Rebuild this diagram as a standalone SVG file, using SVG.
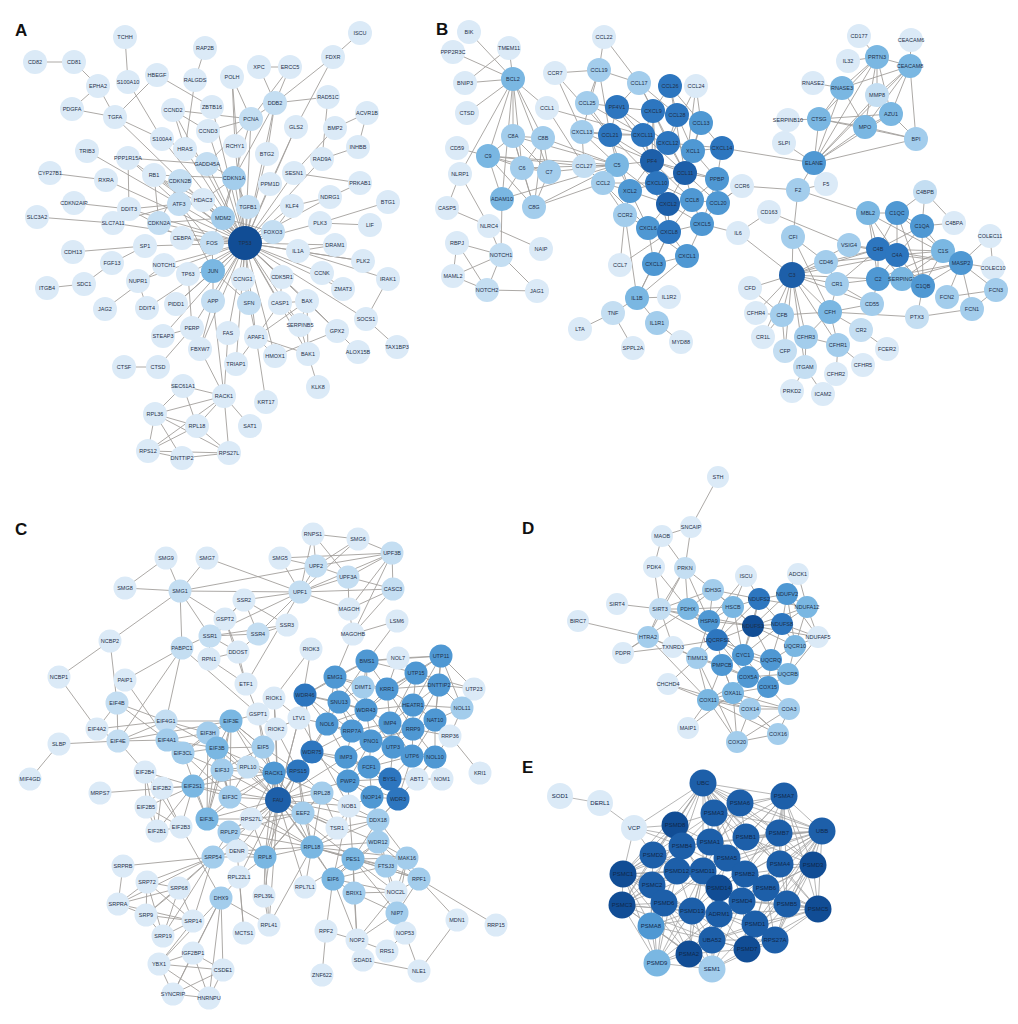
<svg xmlns="http://www.w3.org/2000/svg" width="1018" height="1024" viewBox="0 0 1018 1024">
<style>
text{font-family:"Liberation Sans",Arial,sans-serif;font-size:5.5px;fill:#1f3049;text-anchor:middle;dominant-baseline:central}
.pl{font-size:17px;font-weight:bold;fill:#111;text-anchor:start;dominant-baseline:auto}
.e{fill:none;stroke:#a39f9c;stroke-width:0.9}
.ee{fill:none;stroke:#a3a3a3;stroke-width:0.8}
.k0{fill:#dbeaf7}.k1{fill:#c4def2}.k2{fill:#a3cdec}.k3{fill:#7ab7e2}.k4{fill:#4f98d3}.k5{fill:#2d76bf}.k6{fill:#1d5fa9}.k7{fill:#114d95}
#E text{font-size:6px;fill:#10284a}
</style>
<rect width="1018" height="1024" fill="#fff"/>
<text class="pl" x="15" y="36">A</text>
<text class="pl" x="436" y="35">B</text>
<text class="pl" x="15" y="535">C</text>
<text class="pl" x="522" y="534">D</text>
<text class="pl" x="522" y="773">E</text>
<g id="connectors">
<path class="e" d="M245 243L223 218M245 243L234 178M245 243L213 271M245 243L212 243M245 243L159 223M245 243L182 238M245 243L179 204M245 243L203 200M245 243L248 207M245 243L273 232M245 243L207 164M245 243L185 149M245 243L180 181M245 243L154 175M245 243L145 246M245 243L164 265M245 243L188 274M245 243L243 279M245 243L282 277M245 243L249 303M245 243L280 303M245 243L307 301M245 243L300 325M245 243L256 337M245 243L213 301M245 243L176 304M245 243L228 333M245 243L236 364M245 243L298 251M245 243L335 245M245 243L363 261M245 243L320 223M245 243L292 206M245 243L294 173M245 243L270 184M245 243L267 154M245 243L235 146M245 243L251 119M245 243L275 103M245 243L343 289M245 243L322 273M245 243L366 319M245 243L337 331M245 243L308 354M245 243L275 356M245 243L192 328M245 243L147 308M245 243L138 281M245 243L113 223M245 243L129 209M245 243L106 180M245 243L173 110M245 243L208 131M245 243L212 107M245 243L232 77M245 243L162 139M245 243L115 117M245 243L128 158M245 243L163 336M245 243L200 349M245 243L322 159M245 243L296 127M245 243L330 197
M35 62L74 62M74 62L98 86M98 86L72 109M98 86L115 117M72 109L115 117M125 37L128 82M128 82L162 139M157 75L115 117M157 75L212 107M205 48L195 80M195 80L185 149M115 117L162 139M173 110L251 119M173 110L208 131M173 110L185 149M208 131L251 119M232 77L251 119M232 77L235 146M259 67L290 67M259 67L275 103M290 67L275 103M290 67L251 119M360 33L333 57M333 57L275 103M333 57L296 127M275 103L328 97M275 103L251 119M275 103L267 154M275 103L234 178M251 119L234 178M251 119L207 164M328 97L322 159M367 113L335 128M367 113L358 147M335 128L294 173M358 147L322 159M296 127L270 184M294 173L360 183M330 197L360 183M330 197L292 206M388 202L320 223M320 223L370 225M292 206L273 232M335 245L298 251M363 261L298 251M298 251L388 279M388 279L366 319M366 319L397 347M337 331L358 352M337 331L307 301M337 331L275 356M308 354L318 387M307 301L308 354M307 301L280 303M307 301L256 337M307 301L300 325M280 303L256 337M249 303L256 337M256 337L275 356M256 337L308 354M256 337L266 402M322 273L343 289M282 277L280 303M87 151L179 204M50 173L106 180M74 203L129 209M37 217L113 223M113 223L179 204M129 209L179 204M129 209L182 238M129 209L128 158M128 158L207 164M128 158L179 204M154 175L159 223M154 175L203 200M154 175L234 178M154 175L223 218M180 181L159 223M159 223L223 218M234 178L223 218M234 178L207 164M234 178L248 207M234 178L212 243M223 218L273 232M213 271L212 243M213 271L179 204M213 271L213 301M213 271L188 274M73 252L145 246M112 263L145 246M47 288L84 284M84 284L112 263M105 309L164 265M124 367L158 367M158 367L192 328M163 336L192 328M192 328L188 274M213 301L200 349M200 349L224 396M213 301L224 396M228 333L224 396M236 364L256 337M224 396L183 386M224 396L155 414M224 396L197 426M224 396L229 453M224 396L250 426M224 396L148 451M183 386L155 414M183 386L197 426M155 414L197 426M155 414L148 451M155 414L182 458M155 414L229 453M197 426L148 451M197 426L229 453M148 451L182 458M182 458L229 453M148 451L229 453M203 200L223 218M182 238L212 243M212 243L179 204M179 204L180 181M203 200L234 178M207 164L185 149M185 149L162 139M138 281L147 308M176 304L213 271M249 303L213 271M243 279L249 303M280 303L300 325M300 325L308 354"/>
<path class="e" d="M469 32L513 79M509 48L513 79M453 52L513 79M465 83L513 79M467 113L513 79M465 83L509 48M513 79L547 108M513 79L513 136M513 79L543 138M513 79L488 156M513 79L522 168M513 79L549 172M513 79L502 199M513 79L460 174M457 148L488 156M488 156L513 136M488 156L522 168M488 156L549 172M488 156L534 207M488 156L502 199M513 136L543 138M513 136L522 168M513 136L549 172M513 136L534 207M543 138L522 168M543 138L549 172M543 138L534 207M522 168L549 172M522 168L534 207M549 172L534 207M522 168L502 199M617 165L522 168M617 165L549 172M617 165L543 138M617 165L488 156M617 165L534 207M617 165L513 136M502 199L501 255M502 199L617 165M460 174L447 208M460 174L489 226M447 208L489 226M489 226L541 249M489 226L501 255M457 243L501 255M457 243L453 276M457 243L487 290M453 276L501 255M453 276L487 290M501 255L487 290M501 255L537 291M487 290L537 291M534 207L603 183M488 156L584 166M547 108L584 166
M604 37L599 70M604 37L639 83M555 73L599 70M555 73L610 135M555 73L582 132M599 70L610 135M599 70L587 103M599 70L639 83M599 70L582 132M639 83L617 107M639 83L685 173M639 83L677 115M639 83L653 111M670 86L685 173M670 86L653 111M670 86L701 123M670 86L677 115M696 86L701 123M696 86L685 173M696 86L668 143M547 108L643 135M587 103L617 107M587 103L610 135M587 103L643 135M617 107L653 111M617 107L610 135M617 107L643 135M617 107L652 161M617 107L668 143M653 111L677 115M653 111L643 135M653 111L668 143M653 111L657 183M653 111L652 161M677 115L701 123M677 115L668 143M677 115L693 151M701 123L693 151M701 123L722 148M701 123L685 173M582 132L610 135M582 132L643 135M582 132L617 165M582 132L584 166M582 132L652 161M610 135L643 135M610 135L617 165M610 135L652 161M610 135L630 191M643 135L668 143M643 135L652 161M643 135L657 183M668 143L693 151M668 143L652 161M668 143L685 173M668 143L722 148M693 151L722 148M693 151L685 173M693 151L717 179M722 148L717 179M722 148L814 163M584 166L617 165M584 166L603 183M617 165L652 161M617 165L603 183M617 165L630 191M652 161L685 173M652 161L657 183M652 161L630 191M652 161L668 204M652 161L692 200M652 161L717 179M685 173L717 179M685 173L657 183M685 173L692 200M685 173L718 203M685 173L668 204M717 179L718 203M717 179L692 200M717 179L702 224M603 183L630 191M603 183L625 215M603 183L657 183M630 191L657 183M630 191L668 204M630 191L625 215M657 183L668 204M657 183L692 200M668 204L692 200M668 204L648 228M668 204L669 232M668 204L702 224M692 200L718 203M692 200L702 224M718 203L702 224M718 203L742 186M625 215L648 228M625 215L620 265M648 228L669 232M648 228L654 264M648 228L687 256M669 232L702 224M669 232L654 264M669 232L687 256M702 224L687 256M702 224L738 233M654 264L687 256M620 265L669 232M637 298L687 256M637 298L654 264M637 298L669 232M637 298L625 215M637 298L669 297M637 298L657 323M637 298L613 313M613 313L580 329M613 313L633 348M657 323L681 342M617 165L668 204M610 135L657 183M643 135L685 173M630 191L648 228M657 183L669 232M692 200L669 232M603 183L648 228
M814 163L916 139M814 163L865 127M814 163L819 119M814 163L891 114M814 163L877 57M814 163L842 88M814 163L910 66M814 163L877 95M814 163L784 143M814 163L798 190M819 119L788 120M819 119L865 127M819 119L891 114M819 119L877 57M819 119L842 88M819 119L916 139M865 127L891 114M865 127L916 139M865 127L877 57M865 127L910 66M865 127L842 88M891 114L916 139M891 114L910 66M891 114L877 57M891 114L877 95M877 95L910 66M877 95L877 57M910 66L911 40M910 66L916 139M910 66L842 88M910 66L877 57M877 57L859 36M877 57L848 61M877 57L842 88M813 83L842 88M798 190L826 184M798 190L742 186M798 190L793 237M798 190L868 213M742 186L718 203M738 233L769 212M738 233L792 275M769 212L849 245M793 237L792 275M793 237L826 262M793 237L830 312
M792 275L750 288M792 275L756 313M792 275L782 315M792 275L763 337M792 275L785 351M792 275L806 337M792 275L805 367M792 275L830 312M792 275L838 345M792 275L837 284M792 275L826 262M792 275L872 304M792 275L878 279M792 275L878 249M792 275L897 255M792 275L849 245M826 262L878 249M826 262L897 255M826 262L837 284M849 245L878 249M849 245L897 255M878 249L897 255M878 249L878 279M878 249L943 251M878 249L897 213M878 249L922 226M878 249L868 213M878 249L961 263M878 249L902 279M878 249L923 286M878 249L837 284M897 255L878 279M897 255L943 251M897 255L961 263M897 255L922 226M897 255L897 213M897 255L868 213M897 255L902 279M897 255L923 286M878 279L943 251M878 279L902 279M878 279L872 304M878 279L837 284M878 279L961 263M943 251L961 263M943 251L902 279M943 251L923 286M943 251L922 226M943 251L897 213M897 213L922 226M897 213L923 286M897 213L868 213M922 226L923 286M922 226L954 223M925 192L954 223M925 192L922 226M925 192L897 213M868 213L961 263M868 213L878 279M961 263L990 236M961 263L993 268M961 263L947 297M961 263L972 309M961 263L996 290M961 263L923 286M961 263L902 279M990 236L993 268M996 290L947 297M972 309L996 290M972 309L917 317M917 317L830 312M923 286L917 317M872 304L837 284M872 304L830 312M830 312L861 330M861 330L887 349M830 312L838 345M830 312L806 337M830 312L782 315M830 312L837 284M838 345L836 374M838 345L863 365M806 337L805 367M806 337L838 345M805 367L792 391M805 367L823 394M782 315L785 351M782 315L750 288M782 315L763 337M782 315L756 313"/>
<path class="e" d="M166 558L125 588M166 558L180 591M207 558L180 591M207 558L300 592M125 588L180 591M180 591L300 592M180 591L225 619M180 591L210 636M180 591L182 648M180 591L110 641M180 591L316 566M110 641L59 677M110 641L117 703M59 677L97 729M182 648L125 680M182 648L166 721M182 648L118 741M182 648L258 714M182 648L300 592M125 680L167 740M117 703L97 729M117 703L118 741M117 703L166 721M117 703L167 740M118 741L166 721M118 741L97 729M118 741L59 744M118 741L167 740M118 741L231 721M59 744L30 779M166 721L231 721M166 721L167 740M166 721L208 733M166 721L217 748M167 740L217 748M167 740L208 733M97 729L166 721M210 636L244 600M210 636L287 625M210 636L258 634M210 636L209 659M210 636L238 652M210 636L225 619M244 600L287 625M244 600L258 634M244 600L225 619M258 634L287 625M258 634L238 652M238 652L209 659M244 600L300 592M225 619L246 684M225 619L238 652M246 684L258 714M246 684L300 592M246 684L209 659M238 652L246 684M300 592L316 566M300 592L348 577M300 592L392 553M300 592L280 558M300 592L358 539M300 592L313 534M300 592L349 609M300 592L393 589M316 566L348 577M316 566L392 553M316 566L280 558M316 566L313 534M316 566L358 539M348 577L392 553M348 577L393 589M348 577L349 609M348 577L313 534M392 553L358 539M392 553L393 589M392 553L349 609M392 553L353 634M280 558L392 553M393 589L349 609M393 589L353 634M349 609L353 634M353 634L397 621M353 634L335 677M397 621L367 661M313 534L358 539M258 634L300 592M311 649L299 718M311 649L274 698M274 698L276 729M274 698L299 718M276 729L299 718M258 714L263 747M258 714L276 729M258 714L231 721M274 698L258 714
M367 661L398 658M367 661L335 677M367 661L387 689M367 661L363 687M367 661L416 673M367 661L441 656M367 661L305 695M367 661L339 702M367 661L366 710M398 658L441 656M398 658L416 673M398 658L387 689M441 656L416 673M441 656L439 685M441 656L413 705M441 656L462 708M441 656L435 720M441 656L387 689M335 677L363 687M335 677L305 695M335 677L339 702M335 677L387 689M335 677L366 710M335 677L327 724M416 673L439 685M416 673L387 689M416 673L413 705M416 673L390 723M416 673L474 689M416 673L366 710M363 687L387 689M363 687L339 702M363 687L366 710M387 689L413 705M387 689L366 710M387 689L390 723M387 689L439 685M387 689L413 729M439 685L474 689M439 685L413 705M439 685L462 708M439 685L435 720M439 685L413 729M305 695L339 702M305 695L327 724M305 695L352 731M305 695L312 752M305 695L366 710M339 702L366 710M339 702L327 724M339 702L352 731M339 702L371 741M366 710L390 723M366 710L413 705M366 710L352 731M366 710L371 741M366 710L393 747M366 710L327 724M413 705L435 720M413 705L462 708M413 705L390 723M413 705L413 729M413 705L393 747M462 708L435 720M462 708L450 736M327 724L352 731M327 724L312 752M327 724L346 757M327 724L371 741M390 723L413 729M390 723L371 741M390 723L393 747M390 723L352 731M390 723L412 756M435 720L413 729M435 720L450 736M435 720L435 757M435 720L412 756M352 731L371 741M352 731L346 757M352 731L312 752M352 731L393 747M413 729L393 747M413 729L412 756M413 729L435 757M413 729L371 741M371 741L393 747M371 741L346 757M371 741L369 767M371 741L348 781M393 747L412 756M393 747L369 767M393 747L390 779M393 747L435 757M312 752L346 757M312 752L348 781M312 752L369 767M346 757L369 767M346 757L348 781M346 757L390 779M412 756L435 757M412 756L390 779M412 756L398 799M412 756L369 767M435 757L442 779M435 757L417 779M435 757L398 799M369 767L390 779M369 767L348 781M369 767L372 797M369 767L398 799M390 779L417 779M390 779L398 799M390 779L372 797M390 779L348 781M348 781L372 797M348 781L398 799M348 781L349 806M372 797L398 799M372 797L378 820M398 799L378 820M417 779L442 779M474 689L441 656M450 736L435 757M450 736L413 729M450 736L480 773M299 718L305 695M299 718L327 724M299 718L278 800M299 718L349 806M299 718L276 729
M278 800L274 773M278 800L298 771M278 800L248 767M278 800L222 770M278 800L230 797M278 800L193 786M278 800L207 819M278 800L251 819M278 800L229 832M278 800L265 857M278 800L312 847M278 800L303 813M278 800L322 793M278 800L349 806M278 800L337 828M278 800L276 729M278 800L274 698M278 800L263 747M278 800L217 748M278 800L231 721M278 800L258 714M278 800L237 851M278 800L239 877M278 800L264 896M278 800L269 925M278 800L305 887M278 800L213 857M278 800L353 859M278 800L333 879M278 800L312 752M278 800L327 724M278 800L305 695M278 800L348 781M278 800L346 757M278 800L208 733M278 800L378 820M278 800L378 842M274 773L298 771M274 773L248 767M274 773L222 770M274 773L230 797M274 773L263 747M274 773L217 748M274 773L231 721M274 773L312 847M274 773L265 857M274 773L303 813M274 773L193 786M274 773L207 819M274 773L322 793M274 773L251 819M298 771L322 793M298 771L312 847M298 771L303 813M298 771L265 857M298 771L263 747M298 771L312 752M298 771L276 729M231 721L208 733M231 721L217 748M231 721L183 753M231 721L222 770M231 721L230 797M231 721L207 819M231 721L263 747M208 733L217 748M208 733L183 753M208 733L222 770M208 733L230 797M208 733L207 819M217 748L183 753M217 748L222 770M217 748L230 797M217 748L207 819M217 748L193 786M183 753L222 770M183 753L230 797M183 753L207 819M222 770L230 797M222 770L207 819M230 797L207 819M193 786L263 747M193 786L230 797M193 786L145 772M193 786L162 788M193 786L146 807M193 786L157 831M193 786L181 827M193 786L100 793M193 786L207 819M263 747L231 721M263 747L217 748M248 767L222 770M248 767L230 797M248 767L263 747M145 772L162 788M145 772L146 807M145 772L157 831M145 772L181 827M162 788L146 807M162 788L157 831M162 788L181 827M146 807L157 831M146 807L181 827M157 831L181 827M145 772L118 741
M312 847L265 857M312 847L303 813M312 847L322 793M312 847L353 859M312 847L333 879M312 847L378 842M312 847L378 820M312 847L337 828M312 847L407 858M312 847L386 866M312 847L419 879M312 847L269 925M312 847L229 832M312 847L237 851M312 847L230 797M312 847L251 819M265 857L229 832M265 857L237 851M265 857L303 813M265 857L251 819M265 857L264 896M265 857L269 925M265 857L239 877M265 857L213 857M265 857L322 793M303 813L322 793M303 813L229 832M303 813L251 819M303 813L337 828M322 793L349 806M322 793L337 828M229 832L251 819M229 832L213 857M229 832L207 819M237 851L213 857M237 851L244 933M251 819L207 819M337 828L349 806M337 828L378 820M349 806L378 820M349 806L372 797M378 820L378 842M378 820L353 859M378 820L407 858M378 820L386 866M378 820L398 799M378 820L372 797M378 842L353 859M378 842L407 858M378 842L386 866M378 842L333 879M378 842L419 879M353 859L407 858M353 859L386 866M353 859L333 879M353 859L419 879M353 859L354 893M353 859L396 892M353 859L397 913M353 859L357 940M407 858L386 866M407 858L419 879M407 858L396 892M407 858L397 913M386 866L419 879M386 866L396 892M386 866L333 879M386 866L397 913M333 879L354 893M333 879L357 940M333 879L326 931M333 879L396 892M419 879L396 892M419 879L397 913M419 879L457 920M419 879L496 925M354 893L357 940M354 893L397 913M354 893L396 892M396 892L397 913M397 913L357 940M397 913L405 933M305 887L312 847M305 887L353 859M326 931L322 975M326 931L357 940M357 940L387 951M357 940L363 960M357 940L396 892M405 933L387 951M405 933L419 971M363 960L419 971M457 920L419 971M353 859L349 806M349 806L333 879
M213 857L123 866M213 857L147 882M213 857L179 888M213 857L193 921M213 857L146 915M213 857L163 936M213 857L118 904M213 857L237 851M147 882L179 888M147 882L118 904M147 882L146 915M147 882L163 936M147 882L193 921M123 866L118 904M118 904L146 915M179 888L193 921M179 888L163 936M179 888L146 915M179 888L118 904M146 915L193 921M146 915L163 936M193 921L163 936M193 921L118 904M221 898L159 964M221 898L193 953M221 898L223 970M221 898L209 998M221 898L173 994M221 898L269 925M221 898L181 827M221 898L239 877M159 964L193 953M159 964L223 970M159 964L173 994M159 964L209 998M193 953L223 970M193 953L209 998M193 953L173 994M223 970L173 994M223 970L209 998M173 994L209 998M159 964L193 921M264 896L269 925M239 877L244 933"/>
<path class="e" d="M718 477L691 527M691 527L662 536M691 527L685 568M662 536L685 568M662 536L654 567M654 567L660 609M654 567L688 609M685 568L660 609M685 568L648 637M685 568L713 590M685 568L709 621M685 568L688 609M617 604L660 609M578 621L648 637M648 637L623 653M648 637L673 647M648 637L660 609M648 637L697 658M648 637L708 700M623 653L688 609M623 653L673 647M660 609L688 609M660 609L713 590M660 609L709 621M660 609L673 647M660 609L717 640M660 609L753 626M688 609L713 590M688 609L709 621M688 609L733 607M688 609L717 640M746 576L733 607M746 576L709 621M746 576L759 599M798 574L787 594M798 574L807 607M713 590L759 599M713 590L733 607M713 590L709 621M713 590L753 626M759 599L787 594M759 599L753 626M759 599L782 624M759 599L807 607M759 599L733 607M759 599L717 640M759 599L743 655M787 594L807 607M787 594L782 624M787 594L753 626M787 594L818 637M787 594L795 646M807 607L782 624M807 607L818 637M807 607L795 646M807 607L753 626M733 607L709 621M733 607L753 626M733 607L717 640M733 607L743 655M709 621L717 640M709 621L753 626M709 621L697 658M709 621L743 655M753 626L782 624M753 626L717 640M753 626L743 655M753 626L771 660M753 626L795 646M753 626L818 637M782 624L818 637M782 624L795 646M782 624L771 660M782 624L743 655M818 637L795 646M818 637L788 674M717 640L743 655M717 640L722 665M717 640L771 660M717 640L748 677M717 640L697 658M795 646L771 660M795 646L788 674M743 655L771 660M743 655L722 665M743 655L748 677M743 655L788 674M743 655L768 687M771 660L788 674M771 660L748 677M771 660L768 687M722 665L748 677M722 665L697 658M722 665L733 693M788 674L748 677M788 674L768 687M748 677L768 687M748 677L733 693M768 687L733 693M768 687L789 709M768 687L750 709M697 658L708 700M697 658L668 684M697 658L748 677M673 647L697 658M673 647L717 640M668 684L708 700M668 684L750 709M688 728L708 700M688 728L733 693M737 742L778 734M737 742L708 700M737 742L750 709M737 742L733 693M737 742L789 709M778 734L789 709M778 734L708 700M778 734L750 709M778 734L733 693M789 709L750 709M789 709L708 700M789 709L733 693M708 700L733 693M708 700L750 709M708 700L748 677M750 709L733 693M708 700L722 665M733 693L722 665M697 658L737 742"/>
<path class="ee" d="M560 796L600 803M600 803L634 828M634 828L703 783M634 828L653 855M634 828L675 825M634 828L682 846M634 828L623 874M634 828L710 842
M703 783L784 796M703 783L740 803M703 783L714 813M703 783L675 825M703 783L822 831M703 783L746 837M703 783L779 833M703 783L682 846M703 783L710 842M703 783L653 855M703 783L727 858M703 783L780 864M703 783L813 865M703 783L623 874M703 783L745 874M703 783L652 885M703 783L766 888M703 783L703 871M703 783L742 901M703 783L818 909M703 783L622 905
M822 831L784 796M822 831L740 803M822 831L714 813M822 831L746 837M822 831L779 833M822 831L780 864M822 831L813 865M822 831L745 874M822 831L766 888M822 831L742 901M822 831L787 904M822 831L818 909M822 831L755 924M822 831L775 940M822 831L747 949M822 831L727 858M822 831L710 842M822 831L719 888M822 831L703 871M822 831L682 846
M784 796L740 803M784 796L714 813M784 796L746 837M784 796L779 833M784 796L780 864M784 796L813 865M784 796L766 888M784 796L745 874M784 796L727 858M784 796L710 842M784 796L818 909M784 796L787 904
M623 874L653 855M623 874L652 885M623 874L622 905M623 874L664 903M623 874L651 926M623 874L675 825M623 874L682 846M623 874L677 871M623 874L703 871M623 874L692 911M623 874L657 963M623 874L689 954M623 874L710 842M623 874L714 813M623 874L719 888
M622 905L652 885M622 905L664 903M622 905L651 926M622 905L657 963M622 905L689 954M622 905L692 911M622 905L677 871M622 905L653 855M622 905L682 846M622 905L712 940M622 905L719 914M622 905L703 871
M818 909L787 904M818 909L813 865M818 909L766 888M818 909L755 924M818 909L775 940M818 909L747 949M818 909L742 901M818 909L780 864M818 909L745 874M818 909L719 914M818 909L712 940M818 909L719 888
M657 963L651 926M657 963L689 954M657 963L712 969M657 963L692 911M657 963L664 903M657 963L712 940M657 963L719 914M657 963L652 885M657 963L677 871M657 963L703 871
M712 969L689 954M712 969L712 940M712 969L747 949M712 969L719 914M712 969L692 911M712 969L775 940M712 969L755 924M712 969L742 901M712 969L664 903M712 969L651 926
M689 954L651 926M689 954L712 940M689 954L692 911M689 954L719 914M689 954L664 903M689 954L747 949M689 954L703 871M689 954L742 901
M747 949L775 940M747 949L712 940M747 949L755 924M747 949L719 914M747 949L742 901M747 949L787 904M747 949L766 888M747 949L692 911
M775 940L755 924M775 940L787 904M775 940L712 940M775 940L742 901M775 940L766 888M775 940L719 914M775 940L813 865
M651 926L664 903M651 926L692 911M651 926L652 885M651 926L712 940M651 926L677 871M651 926L719 914
M813 865L780 864M813 865L779 833M813 865L766 888M813 865L787 904M813 865L746 837M813 865L745 874M813 865L742 901M813 865L755 924
M714 813L675 825M714 813L710 842M740 803L746 837M675 825L682 846M682 846L653 855M710 842L727 858M727 858L745 874M653 855L677 871M677 871L703 871M703 871L719 888M745 874L766 888M652 885L664 903M664 903L692 911M692 911L719 914M719 914L742 901M742 901L755 924M766 888L787 904M780 864L787 904M746 837L779 833M712 940L755 924M675 825L653 855M740 803L714 813M727 858L703 871M682 846L710 842
M740 803L710 842M740 803L779 833M714 813L746 837M714 813L682 846M675 825L710 842M675 825L677 871M746 837L727 858M746 837L780 864M779 833L780 864M779 833L745 874M710 842L703 871M710 842L745 874M682 846L677 871M682 846L703 871M653 855L652 885M653 855L703 871M727 858L719 888M727 858L766 888M780 864L766 888M780 864L742 901M745 874L719 888M745 874L742 901M677 871L652 885M677 871L692 911M703 871L692 911M703 871L664 903M719 888L742 901M719 888L692 911M719 888L755 924M766 888L742 901M766 888L755 924M652 885L692 911M652 885L651 926M664 903L719 914M664 903L712 940M692 911L712 940M719 914L755 924M719 914L712 940M742 901L712 940M742 901L787 904M787 904L755 924M755 924L747 949M712 940L747 949M714 813L742 901M740 803L703 871M675 825L719 914M682 846L766 888M653 855L742 901M710 842L692 911M746 837L692 911M779 833L719 888M727 858L664 903M780 864L719 914"/>
</g>
<g id="A">
<g id="A-TCHH"><circle class="k0" cx="125" cy="37" r="12"/><text x="125" y="37">TCHH</text></g>
<g id="A-CD82"><circle class="k0" cx="35" cy="62" r="12"/><text x="35" y="62">CD82</text></g>
<g id="A-CD81"><circle class="k0" cx="74" cy="62" r="12"/><text x="74" y="62">CD81</text></g>
<g id="A-RAP2B"><circle class="k0" cx="205" cy="48" r="12"/><text x="205" y="48">RAP2B</text></g>
<g id="A-ISCU"><circle class="k0" cx="360" cy="33" r="12"/><text x="360" y="33">ISCU</text></g>
<g id="A-FDXR"><circle class="k0" cx="333" cy="57" r="12"/><text x="333" y="57">FDXR</text></g>
<g id="A-XPC"><circle class="k0" cx="259" cy="67" r="12"/><text x="259" y="67">XPC</text></g>
<g id="A-ERCC5"><circle class="k0" cx="290" cy="67" r="12"/><text x="290" y="67">ERCC5</text></g>
<g id="A-EPHA2"><circle class="k0" cx="98" cy="86" r="12"/><text x="98" y="86">EPHA2</text></g>
<g id="A-S100A10"><circle class="k0" cx="128" cy="82" r="12"/><text x="128" y="82">S100A10</text></g>
<g id="A-HBEGF"><circle class="k0" cx="157" cy="75" r="12"/><text x="157" y="75">HBEGF</text></g>
<g id="A-RALGDS"><circle class="k0" cx="195" cy="80" r="12"/><text x="195" y="80">RALGDS</text></g>
<g id="A-POLH"><circle class="k0" cx="232" cy="77" r="12"/><text x="232" y="77">POLH</text></g>
<g id="A-DDB2"><circle class="k1" cx="275" cy="103" r="12"/><text x="275" y="103">DDB2</text></g>
<g id="A-RAD51C"><circle class="k0" cx="328" cy="97" r="12"/><text x="328" y="97">RAD51C</text></g>
<g id="A-ACVR1B"><circle class="k0" cx="367" cy="113" r="12"/><text x="367" y="113">ACVR1B</text></g>
<g id="A-PDGFA"><circle class="k0" cx="72" cy="109" r="12"/><text x="72" y="109">PDGFA</text></g>
<g id="A-TGFA"><circle class="k0" cx="115" cy="117" r="12"/><text x="115" y="117">TGFA</text></g>
<g id="A-CCND2"><circle class="k0" cx="173" cy="110" r="12"/><text x="173" y="110">CCND2</text></g>
<g id="A-ZBTB16"><circle class="k0" cx="212" cy="107" r="12"/><text x="212" y="107">ZBTB16</text></g>
<g id="A-CCND3"><circle class="k0" cx="208" cy="131" r="12"/><text x="208" y="131">CCND3</text></g>
<g id="A-PCNA"><circle class="k1" cx="251" cy="119" r="12"/><text x="251" y="119">PCNA</text></g>
<g id="A-GLS2"><circle class="k0" cx="296" cy="127" r="12"/><text x="296" y="127">GLS2</text></g>
<g id="A-BMP2"><circle class="k0" cx="335" cy="128" r="12"/><text x="335" y="128">BMP2</text></g>
<g id="A-S100A4"><circle class="k0" cx="162" cy="139" r="12"/><text x="162" y="139">S100A4</text></g>
<g id="A-HRAS"><circle class="k0" cx="185" cy="149" r="12"/><text x="185" y="149">HRAS</text></g>
<g id="A-RCHY1"><circle class="k0" cx="235" cy="146" r="12"/><text x="235" y="146">RCHY1</text></g>
<g id="A-BTG2"><circle class="k0" cx="267" cy="154" r="12"/><text x="267" y="154">BTG2</text></g>
<g id="A-INHBB"><circle class="k0" cx="358" cy="147" r="12"/><text x="358" y="147">INHBB</text></g>
<g id="A-TRIB3"><circle class="k0" cx="87" cy="151" r="12"/><text x="87" y="151">TRIB3</text></g>
<g id="A-PPP1R15A"><circle class="k0" cx="128" cy="158" r="12"/><text x="128" y="158">PPP1R15A</text></g>
<g id="A-GADD45A"><circle class="k1" cx="207" cy="164" r="12"/><text x="207" y="164">GADD45A</text></g>
<g id="A-RAD9A"><circle class="k0" cx="322" cy="159" r="12"/><text x="322" y="159">RAD9A</text></g>
<g id="A-CYP27B1"><circle class="k0" cx="50" cy="173" r="12"/><text x="50" y="173">CYP27B1</text></g>
<g id="A-RXRA"><circle class="k0" cx="106" cy="180" r="12"/><text x="106" y="180">RXRA</text></g>
<g id="A-RB1"><circle class="k0" cx="154" cy="175" r="12"/><text x="154" y="175">RB1</text></g>
<g id="A-CDKN2B"><circle class="k1" cx="180" cy="181" r="12"/><text x="180" y="181">CDKN2B</text></g>
<g id="A-CDKN1A"><circle class="k2" cx="234" cy="178" r="12"/><text x="234" y="178">CDKN1A</text></g>
<g id="A-SESN1"><circle class="k0" cx="294" cy="173" r="12"/><text x="294" y="173">SESN1</text></g>
<g id="A-PPM1D"><circle class="k0" cx="270" cy="184" r="12"/><text x="270" y="184">PPM1D</text></g>
<g id="A-PRKAB1"><circle class="k0" cx="360" cy="183" r="12"/><text x="360" y="183">PRKAB1</text></g>
<g id="A-CDKN2AIP"><circle class="k0" cx="74" cy="203" r="12"/><text x="74" y="203">CDKN2AIP</text></g>
<g id="A-DDIT3"><circle class="k0" cx="129" cy="209" r="12"/><text x="129" y="209">DDIT3</text></g>
<g id="A-ATF3"><circle class="k1" cx="179" cy="204" r="12"/><text x="179" y="204">ATF3</text></g>
<g id="A-HDAC3"><circle class="k0" cx="203" cy="200" r="12"/><text x="203" y="200">HDAC3</text></g>
<g id="A-TGFB1"><circle class="k1" cx="248" cy="207" r="12"/><text x="248" y="207">TGFB1</text></g>
<g id="A-NDRG1"><circle class="k0" cx="330" cy="197" r="12"/><text x="330" y="197">NDRG1</text></g>
<g id="A-KLF4"><circle class="k0" cx="292" cy="206" r="12"/><text x="292" y="206">KLF4</text></g>
<g id="A-BTG1"><circle class="k0" cx="388" cy="202" r="12"/><text x="388" y="202">BTG1</text></g>
<g id="A-SLC3A2"><circle class="k0" cx="37" cy="217" r="12"/><text x="37" y="217">SLC3A2</text></g>
<g id="A-SLC7A11"><circle class="k0" cx="113" cy="223" r="12"/><text x="113" y="223">SLC7A11</text></g>
<g id="A-CDKN2A"><circle class="k1" cx="159" cy="223" r="12"/><text x="159" y="223">CDKN2A</text></g>
<g id="A-MDM2"><circle class="k2" cx="223" cy="218" r="12"/><text x="223" y="218">MDM2</text></g>
<g id="A-PLK3"><circle class="k0" cx="320" cy="223" r="12"/><text x="320" y="223">PLK3</text></g>
<g id="A-LIF"><circle class="k0" cx="370" cy="225" r="12"/><text x="370" y="225">LIF</text></g>
<g id="A-FOXO3"><circle class="k1" cx="273" cy="232" r="12"/><text x="273" y="232">FOXO3</text></g>
<g id="A-CEBPA"><circle class="k0" cx="182" cy="238" r="12"/><text x="182" y="238">CEBPA</text></g>
<g id="A-FOS"><circle class="k1" cx="212" cy="243" r="12"/><text x="212" y="243">FOS</text></g>
<g id="A-SP1"><circle class="k0" cx="145" cy="246" r="12"/><text x="145" y="246">SP1</text></g>
<g id="A-IL1A"><circle class="k0" cx="298" cy="251" r="12"/><text x="298" y="251">IL1A</text></g>
<g id="A-DRAM1"><circle class="k0" cx="335" cy="245" r="12"/><text x="335" y="245">DRAM1</text></g>
<g id="A-CDH13"><circle class="k0" cx="73" cy="252" r="12"/><text x="73" y="252">CDH13</text></g>
<g id="A-PLK2"><circle class="k0" cx="363" cy="261" r="12"/><text x="363" y="261">PLK2</text></g>
<g id="A-FGF13"><circle class="k0" cx="112" cy="263" r="12"/><text x="112" y="263">FGF13</text></g>
<g id="A-NOTCH1"><circle class="k0" cx="164" cy="265" r="12"/><text x="164" y="265">NOTCH1</text></g>
<g id="A-JUN"><circle class="k3" cx="213" cy="271" r="12"/><text x="213" y="271">JUN</text></g>
<g id="A-TP63"><circle class="k0" cx="188" cy="274" r="12"/><text x="188" y="274">TP63</text></g>
<g id="A-CCNG1"><circle class="k0" cx="243" cy="279" r="12"/><text x="243" y="279">CCNG1</text></g>
<g id="A-CDK5R1"><circle class="k0" cx="282" cy="277" r="12"/><text x="282" y="277">CDK5R1</text></g>
<g id="A-CCNK"><circle class="k0" cx="322" cy="273" r="12"/><text x="322" y="273">CCNK</text></g>
<g id="A-IRAK1"><circle class="k0" cx="388" cy="279" r="12"/><text x="388" y="279">IRAK1</text></g>
<g id="A-NUPR1"><circle class="k0" cx="138" cy="281" r="12"/><text x="138" y="281">NUPR1</text></g>
<g id="A-SDC1"><circle class="k0" cx="84" cy="284" r="12"/><text x="84" y="284">SDC1</text></g>
<g id="A-ITGB4"><circle class="k0" cx="47" cy="288" r="12"/><text x="47" y="288">ITGB4</text></g>
<g id="A-ZMAT3"><circle class="k0" cx="343" cy="289" r="12"/><text x="343" y="289">ZMAT3</text></g>
<g id="A-SFN"><circle class="k1" cx="249" cy="303" r="12"/><text x="249" y="303">SFN</text></g>
<g id="A-CASP1"><circle class="k0" cx="280" cy="303" r="12"/><text x="280" y="303">CASP1</text></g>
<g id="A-BAX"><circle class="k0" cx="307" cy="301" r="12"/><text x="307" y="301">BAX</text></g>
<g id="A-APP"><circle class="k1" cx="213" cy="301" r="12"/><text x="213" y="301">APP</text></g>
<g id="A-PIDD1"><circle class="k0" cx="176" cy="304" r="12"/><text x="176" y="304">PIDD1</text></g>
<g id="A-DDIT4"><circle class="k0" cx="147" cy="308" r="12"/><text x="147" y="308">DDIT4</text></g>
<g id="A-JAG2"><circle class="k0" cx="105" cy="309" r="12"/><text x="105" y="309">JAG2</text></g>
<g id="A-SOCS1"><circle class="k0" cx="366" cy="319" r="12"/><text x="366" y="319">SOCS1</text></g>
<g id="A-SERPINB5"><circle class="k0" cx="300" cy="325" r="12"/><text x="300" y="325">SERPINB5</text></g>
<g id="A-PERP"><circle class="k0" cx="192" cy="328" r="12"/><text x="192" y="328">PERP</text></g>
<g id="A-GPX2"><circle class="k0" cx="337" cy="331" r="12"/><text x="337" y="331">GPX2</text></g>
<g id="A-FAS"><circle class="k0" cx="228" cy="333" r="12"/><text x="228" y="333">FAS</text></g>
<g id="A-STEAP3"><circle class="k0" cx="163" cy="336" r="12"/><text x="163" y="336">STEAP3</text></g>
<g id="A-APAF1"><circle class="k0" cx="256" cy="337" r="12"/><text x="256" y="337">APAF1</text></g>
<g id="A-TAX1BP3"><circle class="k0" cx="397" cy="347" r="12"/><text x="397" y="347">TAX1BP3</text></g>
<g id="A-FBXW7"><circle class="k0" cx="200" cy="349" r="12"/><text x="200" y="349">FBXW7</text></g>
<g id="A-ALOX15B"><circle class="k0" cx="358" cy="352" r="12"/><text x="358" y="352">ALOX15B</text></g>
<g id="A-BAK1"><circle class="k0" cx="308" cy="354" r="12"/><text x="308" y="354">BAK1</text></g>
<g id="A-HMOX1"><circle class="k0" cx="275" cy="356" r="12"/><text x="275" y="356">HMOX1</text></g>
<g id="A-TRIAP1"><circle class="k0" cx="236" cy="364" r="12"/><text x="236" y="364">TRIAP1</text></g>
<g id="A-CTSF"><circle class="k0" cx="124" cy="367" r="12"/><text x="124" y="367">CTSF</text></g>
<g id="A-CTSD"><circle class="k0" cx="158" cy="367" r="12"/><text x="158" y="367">CTSD</text></g>
<g id="A-SEC61A1"><circle class="k0" cx="183" cy="386" r="12"/><text x="183" y="386">SEC61A1</text></g>
<g id="A-KLK8"><circle class="k0" cx="318" cy="387" r="12"/><text x="318" y="387">KLK8</text></g>
<g id="A-RACK1"><circle class="k0" cx="224" cy="396" r="12"/><text x="224" y="396">RACK1</text></g>
<g id="A-KRT17"><circle class="k0" cx="266" cy="402" r="12"/><text x="266" y="402">KRT17</text></g>
<g id="A-RPL36"><circle class="k0" cx="155" cy="414" r="12"/><text x="155" y="414">RPL36</text></g>
<g id="A-RPL18"><circle class="k0" cx="197" cy="426" r="12"/><text x="197" y="426">RPL18</text></g>
<g id="A-SAT1"><circle class="k0" cx="250" cy="426" r="12"/><text x="250" y="426">SAT1</text></g>
<g id="A-RPS12"><circle class="k0" cx="148" cy="451" r="12"/><text x="148" y="451">RPS12</text></g>
<g id="A-RPS27L"><circle class="k0" cx="229" cy="453" r="12"/><text x="229" y="453">RPS27L</text></g>
<g id="A-DNTTIP2"><circle class="k0" cx="182" cy="458" r="12"/><text x="182" y="458">DNTTIP2</text></g>
<g id="A-TP53"><circle class="k7" cx="245" cy="243" r="17"/><text x="245" y="243">TP53</text></g>
</g>
<g id="B">
<g id="B-BIK"><circle class="k0" cx="469" cy="32" r="12"/><text x="469" y="32">BIK</text></g>
<g id="B-TMEM11"><circle class="k0" cx="509" cy="48" r="12"/><text x="509" y="48">TMEM11</text></g>
<g id="B-PPP2R3C"><circle class="k0" cx="453" cy="52" r="12"/><text x="453" y="52">PPP2R3C</text></g>
<g id="B-BCL2"><circle class="k3" cx="513" cy="79" r="12"/><text x="513" y="79">BCL2</text></g>
<g id="B-BNIP3"><circle class="k0" cx="465" cy="83" r="12"/><text x="465" y="83">BNIP3</text></g>
<g id="B-CTSD"><circle class="k0" cx="467" cy="113" r="12"/><text x="467" y="113">CTSD</text></g>
<g id="B-CD59"><circle class="k0" cx="457" cy="148" r="12"/><text x="457" y="148">CD59</text></g>
<g id="B-C9"><circle class="k3" cx="488" cy="156" r="12"/><text x="488" y="156">C9</text></g>
<g id="B-C8A"><circle class="k2" cx="513" cy="136" r="12"/><text x="513" y="136">C8A</text></g>
<g id="B-C8B"><circle class="k2" cx="543" cy="138" r="12"/><text x="543" y="138">C8B</text></g>
<g id="B-C6"><circle class="k2" cx="522" cy="168" r="12"/><text x="522" y="168">C6</text></g>
<g id="B-C7"><circle class="k2" cx="549" cy="172" r="12"/><text x="549" y="172">C7</text></g>
<g id="B-NLRP1"><circle class="k0" cx="460" cy="174" r="12"/><text x="460" y="174">NLRP1</text></g>
<g id="B-ADAM10"><circle class="k3" cx="502" cy="199" r="12"/><text x="502" y="199">ADAM10</text></g>
<g id="B-C8G"><circle class="k2" cx="534" cy="207" r="12"/><text x="534" y="207">C8G</text></g>
<g id="B-CASP5"><circle class="k0" cx="447" cy="208" r="12"/><text x="447" y="208">CASP5</text></g>
<g id="B-NLRC4"><circle class="k0" cx="489" cy="226" r="12"/><text x="489" y="226">NLRC4</text></g>
<g id="B-NAIP"><circle class="k0" cx="541" cy="249" r="12"/><text x="541" y="249">NAIP</text></g>
<g id="B-RBPJ"><circle class="k0" cx="457" cy="243" r="12"/><text x="457" y="243">RBPJ</text></g>
<g id="B-NOTCH1"><circle class="k1" cx="501" cy="255" r="12"/><text x="501" y="255">NOTCH1</text></g>
<g id="B-MAML2"><circle class="k0" cx="453" cy="276" r="12"/><text x="453" y="276">MAML2</text></g>
<g id="B-NOTCH2"><circle class="k1" cx="487" cy="290" r="12"/><text x="487" y="290">NOTCH2</text></g>
<g id="B-JAG1"><circle class="k0" cx="537" cy="291" r="12"/><text x="537" y="291">JAG1</text></g>
<g id="B-CCL22"><circle class="k0" cx="604" cy="37" r="12"/><text x="604" y="37">CCL22</text></g>
<g id="B-CCR7"><circle class="k0" cx="555" cy="73" r="12"/><text x="555" y="73">CCR7</text></g>
<g id="B-CCL19"><circle class="k2" cx="599" cy="70" r="12"/><text x="599" y="70">CCL19</text></g>
<g id="B-CCL17"><circle class="k2" cx="639" cy="83" r="12"/><text x="639" y="83">CCL17</text></g>
<g id="B-CCL26"><circle class="k5" cx="670" cy="86" r="12"/><text x="670" y="86">CCL26</text></g>
<g id="B-CCL24"><circle class="k0" cx="696" cy="86" r="12"/><text x="696" y="86">CCL24</text></g>
<g id="B-CCL1"><circle class="k0" cx="547" cy="108" r="12"/><text x="547" y="108">CCL1</text></g>
<g id="B-CCL25"><circle class="k2" cx="587" cy="103" r="12"/><text x="587" y="103">CCL25</text></g>
<g id="B-PF4V1"><circle class="k5" cx="617" cy="107" r="12"/><text x="617" y="107">PF4V1</text></g>
<g id="B-CXCL9"><circle class="k5" cx="653" cy="111" r="12"/><text x="653" y="111">CXCL9</text></g>
<g id="B-CCL28"><circle class="k5" cx="677" cy="115" r="12"/><text x="677" y="115">CCL28</text></g>
<g id="B-CCL13"><circle class="k4" cx="701" cy="123" r="12"/><text x="701" y="123">CCL13</text></g>
<g id="B-CXCL13"><circle class="k2" cx="582" cy="132" r="12"/><text x="582" y="132">CXCL13</text></g>
<g id="B-CCL21"><circle class="k5" cx="610" cy="135" r="12"/><text x="610" y="135">CCL21</text></g>
<g id="B-CXCL11"><circle class="k5" cx="643" cy="135" r="12"/><text x="643" y="135">CXCL11</text></g>
<g id="B-CXCL12"><circle class="k5" cx="668" cy="143" r="12"/><text x="668" y="143">CXCL12</text></g>
<g id="B-XCL1"><circle class="k4" cx="693" cy="151" r="12"/><text x="693" y="151">XCL1</text></g>
<g id="B-CXCL14"><circle class="k5" cx="722" cy="148" r="12"/><text x="722" y="148">CXCL14</text></g>
<g id="B-CCL27"><circle class="k1" cx="584" cy="166" r="12"/><text x="584" y="166">CCL27</text></g>
<g id="B-C5"><circle class="k3" cx="617" cy="165" r="12"/><text x="617" y="165">C5</text></g>
<g id="B-PF4"><circle class="k6" cx="652" cy="161" r="12"/><text x="652" y="161">PF4</text></g>
<g id="B-CCL11"><circle class="k6" cx="685" cy="173" r="12"/><text x="685" y="173">CCL11</text></g>
<g id="B-PPBP"><circle class="k4" cx="717" cy="179" r="12"/><text x="717" y="179">PPBP</text></g>
<g id="B-CCL2"><circle class="k2" cx="603" cy="183" r="12"/><text x="603" y="183">CCL2</text></g>
<g id="B-XCL2"><circle class="k4" cx="630" cy="191" r="12"/><text x="630" y="191">XCL2</text></g>
<g id="B-CXCL10"><circle class="k5" cx="657" cy="183" r="12"/><text x="657" y="183">CXCL10</text></g>
<g id="B-CXCL2"><circle class="k6" cx="668" cy="204" r="12"/><text x="668" y="204">CXCL2</text></g>
<g id="B-CCL8"><circle class="k4" cx="692" cy="200" r="12"/><text x="692" y="200">CCL8</text></g>
<g id="B-CCL20"><circle class="k4" cx="718" cy="203" r="12"/><text x="718" y="203">CCL20</text></g>
<g id="B-CCR2"><circle class="k2" cx="625" cy="215" r="12"/><text x="625" y="215">CCR2</text></g>
<g id="B-CXCL6"><circle class="k4" cx="648" cy="228" r="12"/><text x="648" y="228">CXCL6</text></g>
<g id="B-CXCL8"><circle class="k5" cx="669" cy="232" r="12"/><text x="669" y="232">CXCL8</text></g>
<g id="B-CXCL5"><circle class="k4" cx="702" cy="224" r="12"/><text x="702" y="224">CXCL5</text></g>
<g id="B-IL6"><circle class="k0" cx="738" cy="233" r="12"/><text x="738" y="233">IL6</text></g>
<g id="B-CCL7"><circle class="k0" cx="620" cy="265" r="12"/><text x="620" y="265">CCL7</text></g>
<g id="B-CXCL3"><circle class="k4" cx="654" cy="264" r="12"/><text x="654" y="264">CXCL3</text></g>
<g id="B-CXCL1"><circle class="k4" cx="687" cy="256" r="12"/><text x="687" y="256">CXCL1</text></g>
<g id="B-IL1B"><circle class="k3" cx="637" cy="298" r="12"/><text x="637" y="298">IL1B</text></g>
<g id="B-IL1R2"><circle class="k0" cx="669" cy="297" r="12"/><text x="669" y="297">IL1R2</text></g>
<g id="B-TNF"><circle class="k1" cx="613" cy="313" r="12"/><text x="613" y="313">TNF</text></g>
<g id="B-IL1R1"><circle class="k2" cx="657" cy="323" r="12"/><text x="657" y="323">IL1R1</text></g>
<g id="B-LTA"><circle class="k0" cx="580" cy="329" r="12"/><text x="580" y="329">LTA</text></g>
<g id="B-MYD88"><circle class="k0" cx="681" cy="342" r="12"/><text x="681" y="342">MYD88</text></g>
<g id="B-SPPL2A"><circle class="k0" cx="633" cy="348" r="12"/><text x="633" y="348">SPPL2A</text></g>
<g id="B-CD177"><circle class="k0" cx="859" cy="36" r="12"/><text x="859" y="36">CD177</text></g>
<g id="B-CEACAM6"><circle class="k0" cx="911" cy="40" r="12"/><text x="911" y="40">CEACAM6</text></g>
<g id="B-IL32"><circle class="k0" cx="848" cy="61" r="12"/><text x="848" y="61">IL32</text></g>
<g id="B-PRTN3"><circle class="k3" cx="877" cy="57" r="12"/><text x="877" y="57">PRTN3</text></g>
<g id="B-CEACAM8"><circle class="k3" cx="910" cy="66" r="12"/><text x="910" y="66">CEACAM8</text></g>
<g id="B-RNASE2"><circle class="k0" cx="813" cy="83" r="12"/><text x="813" y="83">RNASE2</text></g>
<g id="B-RNASE3"><circle class="k3" cx="842" cy="88" r="12"/><text x="842" y="88">RNASE3</text></g>
<g id="B-MMP8"><circle class="k1" cx="877" cy="95" r="12"/><text x="877" y="95">MMP8</text></g>
<g id="B-AZU1"><circle class="k3" cx="891" cy="114" r="12"/><text x="891" y="114">AZU1</text></g>
<g id="B-SERPINB10"><circle class="k0" cx="788" cy="120" r="12"/><text x="788" y="120">SERPINB10</text></g>
<g id="B-CTSG"><circle class="k3" cx="819" cy="119" r="12"/><text x="819" y="119">CTSG</text></g>
<g id="B-MPO"><circle class="k3" cx="865" cy="127" r="12"/><text x="865" y="127">MPO</text></g>
<g id="B-BPI"><circle class="k2" cx="916" cy="139" r="12"/><text x="916" y="139">BPI</text></g>
<g id="B-SLPI"><circle class="k0" cx="784" cy="143" r="12"/><text x="784" y="143">SLPI</text></g>
<g id="B-ELANE"><circle class="k4" cx="814" cy="163" r="12"/><text x="814" y="163">ELANE</text></g>
<g id="B-F5"><circle class="k0" cx="826" cy="184" r="12"/><text x="826" y="184">F5</text></g>
<g id="B-F2"><circle class="k2" cx="798" cy="190" r="12"/><text x="798" y="190">F2</text></g>
<g id="B-CCR6"><circle class="k0" cx="742" cy="186" r="12"/><text x="742" y="186">CCR6</text></g>
<g id="B-C4BPB"><circle class="k1" cx="925" cy="192" r="12"/><text x="925" y="192">C4BPB</text></g>
<g id="B-CD163"><circle class="k0" cx="769" cy="212" r="12"/><text x="769" y="212">CD163</text></g>
<g id="B-MBL2"><circle class="k3" cx="868" cy="213" r="12"/><text x="868" y="213">MBL2</text></g>
<g id="B-C1QC"><circle class="k4" cx="897" cy="213" r="12"/><text x="897" y="213">C1QC</text></g>
<g id="B-C1QA"><circle class="k4" cx="922" cy="226" r="12"/><text x="922" y="226">C1QA</text></g>
<g id="B-C4BPA"><circle class="k0" cx="954" cy="223" r="12"/><text x="954" y="223">C4BPA</text></g>
<g id="B-COLEC11"><circle class="k0" cx="990" cy="236" r="12"/><text x="990" y="236">COLEC11</text></g>
<g id="B-CFI"><circle class="k2" cx="793" cy="237" r="12"/><text x="793" y="237">CFI</text></g>
<g id="B-VSIG4"><circle class="k2" cx="849" cy="245" r="12"/><text x="849" y="245">VSIG4</text></g>
<g id="B-C4B"><circle class="k5" cx="878" cy="249" r="12"/><text x="878" y="249">C4B</text></g>
<g id="B-C4A"><circle class="k5" cx="897" cy="255" r="12"/><text x="897" y="255">C4A</text></g>
<g id="B-C1S"><circle class="k3" cx="943" cy="251" r="12"/><text x="943" y="251">C1S</text></g>
<g id="B-MASP2"><circle class="k4" cx="961" cy="263" r="12"/><text x="961" y="263">MASP2</text></g>
<g id="B-COLEC10"><circle class="k0" cx="993" cy="268" r="12"/><text x="993" y="268">COLEC10</text></g>
<g id="B-CD46"><circle class="k2" cx="826" cy="262" r="12"/><text x="826" y="262">CD46</text></g>
<g id="B-CR1"><circle class="k2" cx="837" cy="284" r="12"/><text x="837" y="284">CR1</text></g>
<g id="B-C2"><circle class="k4" cx="878" cy="279" r="12"/><text x="878" y="279">C2</text></g>
<g id="B-SERPING1"><circle class="k3" cx="902" cy="279" r="12"/><text x="902" y="279">SERPING1</text></g>
<g id="B-C1QB"><circle class="k4" cx="923" cy="286" r="12"/><text x="923" y="286">C1QB</text></g>
<g id="B-FCN3"><circle class="k2" cx="996" cy="290" r="12"/><text x="996" y="290">FCN3</text></g>
<g id="B-CFD"><circle class="k0" cx="750" cy="288" r="12"/><text x="750" y="288">CFD</text></g>
<g id="B-FCN2"><circle class="k2" cx="947" cy="297" r="12"/><text x="947" y="297">FCN2</text></g>
<g id="B-CD55"><circle class="k2" cx="872" cy="304" r="12"/><text x="872" y="304">CD55</text></g>
<g id="B-FCN1"><circle class="k2" cx="972" cy="309" r="12"/><text x="972" y="309">FCN1</text></g>
<g id="B-CFHR4"><circle class="k0" cx="756" cy="313" r="12"/><text x="756" y="313">CFHR4</text></g>
<g id="B-CFB"><circle class="k2" cx="782" cy="315" r="12"/><text x="782" y="315">CFB</text></g>
<g id="B-CFH"><circle class="k3" cx="830" cy="312" r="12"/><text x="830" y="312">CFH</text></g>
<g id="B-PTX3"><circle class="k1" cx="917" cy="317" r="12"/><text x="917" y="317">PTX3</text></g>
<g id="B-CR1L"><circle class="k0" cx="763" cy="337" r="12"/><text x="763" y="337">CR1L</text></g>
<g id="B-CFHR3"><circle class="k2" cx="806" cy="337" r="12"/><text x="806" y="337">CFHR3</text></g>
<g id="B-CR2"><circle class="k1" cx="861" cy="330" r="12"/><text x="861" y="330">CR2</text></g>
<g id="B-CFHR1"><circle class="k2" cx="838" cy="345" r="12"/><text x="838" y="345">CFHR1</text></g>
<g id="B-CFP"><circle class="k1" cx="785" cy="351" r="12"/><text x="785" y="351">CFP</text></g>
<g id="B-FCER2"><circle class="k0" cx="887" cy="349" r="12"/><text x="887" y="349">FCER2</text></g>
<g id="B-ITGAM"><circle class="k1" cx="805" cy="367" r="12"/><text x="805" y="367">ITGAM</text></g>
<g id="B-CFHR5"><circle class="k0" cx="863" cy="365" r="12"/><text x="863" y="365">CFHR5</text></g>
<g id="B-CFHR2"><circle class="k0" cx="836" cy="374" r="12"/><text x="836" y="374">CFHR2</text></g>
<g id="B-PRKD2"><circle class="k0" cx="792" cy="391" r="12"/><text x="792" y="391">PRKD2</text></g>
<g id="B-ICAM2"><circle class="k0" cx="823" cy="394" r="12"/><text x="823" y="394">ICAM2</text></g>
<g id="B-C3"><circle class="k6" cx="792" cy="275" r="13"/><text x="792" y="275">C3</text></g>
</g>
<g id="C">
<g id="C-SMG9"><circle class="k0" cx="166" cy="558" r="11.5"/><text x="166" y="558">SMG9</text></g>
<g id="C-SMG7"><circle class="k0" cx="207" cy="558" r="11.5"/><text x="207" y="558">SMG7</text></g>
<g id="C-SMG8"><circle class="k0" cx="125" cy="588" r="11.5"/><text x="125" y="588">SMG8</text></g>
<g id="C-SMG1"><circle class="k1" cx="180" cy="591" r="11.5"/><text x="180" y="591">SMG1</text></g>
<g id="C-SSR2"><circle class="k0" cx="244" cy="600" r="11.5"/><text x="244" y="600">SSR2</text></g>
<g id="C-GSPT2"><circle class="k0" cx="225" cy="619" r="11.5"/><text x="225" y="619">GSPT2</text></g>
<g id="C-SSR1"><circle class="k1" cx="210" cy="636" r="11.5"/><text x="210" y="636">SSR1</text></g>
<g id="C-NCBP2"><circle class="k0" cx="110" cy="641" r="11.5"/><text x="110" y="641">NCBP2</text></g>
<g id="C-PABPC1"><circle class="k1" cx="182" cy="648" r="11.5"/><text x="182" y="648">PABPC1</text></g>
<g id="C-DDOST"><circle class="k0" cx="238" cy="652" r="11.5"/><text x="238" y="652">DDOST</text></g>
<g id="C-RPN1"><circle class="k0" cx="209" cy="659" r="11.5"/><text x="209" y="659">RPN1</text></g>
<g id="C-NCBP1"><circle class="k0" cx="59" cy="677" r="11.5"/><text x="59" y="677">NCBP1</text></g>
<g id="C-PAIP1"><circle class="k0" cx="125" cy="680" r="11.5"/><text x="125" y="680">PAIP1</text></g>
<g id="C-ETF1"><circle class="k0" cx="246" cy="684" r="11.5"/><text x="246" y="684">ETF1</text></g>
<g id="C-EIF4B"><circle class="k1" cx="117" cy="703" r="11.5"/><text x="117" y="703">EIF4B</text></g>
<g id="C-GSPT1"><circle class="k0" cx="258" cy="714" r="11.5"/><text x="258" y="714">GSPT1</text></g>
<g id="C-EIF4G1"><circle class="k1" cx="166" cy="721" r="11.5"/><text x="166" y="721">EIF4G1</text></g>
<g id="C-EIF3E"><circle class="k3" cx="231" cy="721" r="11.5"/><text x="231" y="721">EIF3E</text></g>
<g id="C-EIF4A2"><circle class="k0" cx="97" cy="729" r="11.5"/><text x="97" y="729">EIF4A2</text></g>
<g id="C-EIF3H"><circle class="k2" cx="208" cy="733" r="11.5"/><text x="208" y="733">EIF3H</text></g>
<g id="C-SLBP"><circle class="k0" cx="59" cy="744" r="11.5"/><text x="59" y="744">SLBP</text></g>
<g id="C-EIF4E"><circle class="k1" cx="118" cy="741" r="11.5"/><text x="118" y="741">EIF4E</text></g>
<g id="C-EIF4A1"><circle class="k2" cx="167" cy="740" r="11.5"/><text x="167" y="740">EIF4A1</text></g>
<g id="C-EIF3B"><circle class="k3" cx="217" cy="748" r="11.5"/><text x="217" y="748">EIF3B</text></g>
<g id="C-EIF3CL"><circle class="k2" cx="183" cy="753" r="11.5"/><text x="183" y="753">EIF3CL</text></g>
<g id="C-RNPS1"><circle class="k0" cx="313" cy="534" r="11.5"/><text x="313" y="534">RNPS1</text></g>
<g id="C-SMG6"><circle class="k0" cx="358" cy="539" r="11.5"/><text x="358" y="539">SMG6</text></g>
<g id="C-UPF3B"><circle class="k1" cx="392" cy="553" r="11.5"/><text x="392" y="553">UPF3B</text></g>
<g id="C-SMG5"><circle class="k0" cx="280" cy="558" r="11.5"/><text x="280" y="558">SMG5</text></g>
<g id="C-UPF2"><circle class="k1" cx="316" cy="566" r="11.5"/><text x="316" y="566">UPF2</text></g>
<g id="C-UPF3A"><circle class="k1" cx="348" cy="577" r="11.5"/><text x="348" y="577">UPF3A</text></g>
<g id="C-CASC3"><circle class="k1" cx="393" cy="589" r="11.5"/><text x="393" y="589">CASC3</text></g>
<g id="C-UPF1"><circle class="k1" cx="300" cy="592" r="11.5"/><text x="300" y="592">UPF1</text></g>
<g id="C-MAGOH"><circle class="k0" cx="349" cy="609" r="11.5"/><text x="349" y="609">MAGOH</text></g>
<g id="C-SSR3"><circle class="k0" cx="287" cy="625" r="11.5"/><text x="287" y="625">SSR3</text></g>
<g id="C-LSM6"><circle class="k0" cx="397" cy="621" r="11.5"/><text x="397" y="621">LSM6</text></g>
<g id="C-SSR4"><circle class="k1" cx="258" cy="634" r="11.5"/><text x="258" y="634">SSR4</text></g>
<g id="C-MAGOHB"><circle class="k0" cx="353" cy="634" r="11.5"/><text x="353" y="634">MAGOHB</text></g>
<g id="C-RIOK3"><circle class="k0" cx="311" cy="649" r="11.5"/><text x="311" y="649">RIOK3</text></g>
<g id="C-BMS1"><circle class="k4" cx="367" cy="661" r="11.5"/><text x="367" y="661">BMS1</text></g>
<g id="C-NOL7"><circle class="k0" cx="398" cy="658" r="11.5"/><text x="398" y="658">NOL7</text></g>
<g id="C-UTP11"><circle class="k4" cx="441" cy="656" r="11.5"/><text x="441" y="656">UTP11</text></g>
<g id="C-EMG1"><circle class="k4" cx="335" cy="677" r="11.5"/><text x="335" y="677">EMG1</text></g>
<g id="C-UTP15"><circle class="k4" cx="416" cy="673" r="11.5"/><text x="416" y="673">UTP15</text></g>
<g id="C-DIMT1"><circle class="k2" cx="363" cy="687" r="11.5"/><text x="363" y="687">DIMT1</text></g>
<g id="C-KRR1"><circle class="k4" cx="387" cy="689" r="11.5"/><text x="387" y="689">KRR1</text></g>
<g id="C-DNTTIP2"><circle class="k4" cx="439" cy="685" r="11.5"/><text x="439" y="685">DNTTIP2</text></g>
<g id="C-UTP23"><circle class="k0" cx="474" cy="689" r="11.5"/><text x="474" y="689">UTP23</text></g>
<g id="C-RIOK1"><circle class="k0" cx="274" cy="698" r="11.5"/><text x="274" y="698">RIOK1</text></g>
<g id="C-WDR46"><circle class="k5" cx="305" cy="695" r="11.5"/><text x="305" y="695">WDR46</text></g>
<g id="C-SNU13"><circle class="k4" cx="339" cy="702" r="11.5"/><text x="339" y="702">SNU13</text></g>
<g id="C-WDR43"><circle class="k4" cx="366" cy="710" r="11.5"/><text x="366" y="710">WDR43</text></g>
<g id="C-HEATR1"><circle class="k4" cx="413" cy="705" r="11.5"/><text x="413" y="705">HEATR1</text></g>
<g id="C-NOL11"><circle class="k2" cx="462" cy="708" r="11.5"/><text x="462" y="708">NOL11</text></g>
<g id="C-LTV1"><circle class="k0" cx="299" cy="718" r="11.5"/><text x="299" y="718">LTV1</text></g>
<g id="C-NOL6"><circle class="k4" cx="327" cy="724" r="11.5"/><text x="327" y="724">NOL6</text></g>
<g id="C-IMP4"><circle class="k4" cx="390" cy="723" r="11.5"/><text x="390" y="723">IMP4</text></g>
<g id="C-NAT10"><circle class="k4" cx="435" cy="720" r="11.5"/><text x="435" y="720">NAT10</text></g>
<g id="C-RIOK2"><circle class="k0" cx="276" cy="729" r="11.5"/><text x="276" y="729">RIOK2</text></g>
<g id="C-RRP7A"><circle class="k4" cx="352" cy="731" r="11.5"/><text x="352" y="731">RRP7A</text></g>
<g id="C-RRP9"><circle class="k4" cx="413" cy="729" r="11.5"/><text x="413" y="729">RRP9</text></g>
<g id="C-RRP36"><circle class="k0" cx="450" cy="736" r="11.5"/><text x="450" y="736">RRP36</text></g>
<g id="C-EIF5"><circle class="k2" cx="263" cy="747" r="11.5"/><text x="263" y="747">EIF5</text></g>
<g id="C-PNO1"><circle class="k4" cx="371" cy="741" r="11.5"/><text x="371" y="741">PNO1</text></g>
<g id="C-UTP3"><circle class="k4" cx="393" cy="747" r="11.5"/><text x="393" y="747">UTP3</text></g>
<g id="C-WDR75"><circle class="k5" cx="312" cy="752" r="11.5"/><text x="312" y="752">WDR75</text></g>
<g id="C-IMP3"><circle class="k4" cx="346" cy="757" r="11.5"/><text x="346" y="757">IMP3</text></g>
<g id="C-UTP6"><circle class="k4" cx="412" cy="756" r="11.5"/><text x="412" y="756">UTP6</text></g>
<g id="C-NOL10"><circle class="k4" cx="435" cy="757" r="11.5"/><text x="435" y="757">NOL10</text></g>
<g id="C-MIF4GD"><circle class="k0" cx="30" cy="779" r="11.5"/><text x="30" y="779">MIF4GD</text></g>
<g id="C-EIF2B4"><circle class="k0" cx="145" cy="772" r="11.5"/><text x="145" y="772">EIF2B4</text></g>
<g id="C-EIF3J"><circle class="k2" cx="222" cy="770" r="11.5"/><text x="222" y="770">EIF3J</text></g>
<g id="C-RPL10"><circle class="k1" cx="248" cy="767" r="11.5"/><text x="248" y="767">RPL10</text></g>
<g id="C-RACK1"><circle class="k4" cx="274" cy="773" r="11.5"/><text x="274" y="773">RACK1</text></g>
<g id="C-RPS15"><circle class="k5" cx="298" cy="771" r="11.5"/><text x="298" y="771">RPS15</text></g>
<g id="C-FCF1"><circle class="k4" cx="369" cy="767" r="11.5"/><text x="369" y="767">FCF1</text></g>
<g id="C-KRI1"><circle class="k0" cx="480" cy="773" r="11.5"/><text x="480" y="773">KRI1</text></g>
<g id="C-ABT1"><circle class="k0" cx="417" cy="779" r="11.5"/><text x="417" y="779">ABT1</text></g>
<g id="C-NOM1"><circle class="k0" cx="442" cy="779" r="11.5"/><text x="442" y="779">NOM1</text></g>
<g id="C-BYSL"><circle class="k5" cx="390" cy="779" r="11.5"/><text x="390" y="779">BYSL</text></g>
<g id="C-PWP2"><circle class="k4" cx="348" cy="781" r="11.5"/><text x="348" y="781">PWP2</text></g>
<g id="C-MRPS7"><circle class="k0" cx="100" cy="793" r="11.5"/><text x="100" y="793">MRPS7</text></g>
<g id="C-EIF2B2"><circle class="k0" cx="162" cy="788" r="11.5"/><text x="162" y="788">EIF2B2</text></g>
<g id="C-EIF2S1"><circle class="k3" cx="193" cy="786" r="11.5"/><text x="193" y="786">EIF2S1</text></g>
<g id="C-EIF3C"><circle class="k2" cx="230" cy="797" r="11.5"/><text x="230" y="797">EIF3C</text></g>
<g id="C-RPL28"><circle class="k2" cx="322" cy="793" r="11.5"/><text x="322" y="793">RPL28</text></g>
<g id="C-NOB1"><circle class="k0" cx="349" cy="806" r="11.5"/><text x="349" y="806">NOB1</text></g>
<g id="C-NOP14"><circle class="k4" cx="372" cy="797" r="11.5"/><text x="372" y="797">NOP14</text></g>
<g id="C-WDR3"><circle class="k5" cx="398" cy="799" r="11.5"/><text x="398" y="799">WDR3</text></g>
<g id="C-EIF2B5"><circle class="k0" cx="146" cy="807" r="11.5"/><text x="146" y="807">EIF2B5</text></g>
<g id="C-EIF3L"><circle class="k3" cx="207" cy="819" r="11.5"/><text x="207" y="819">EIF3L</text></g>
<g id="C-RPS27L"><circle class="k0" cx="251" cy="819" r="11.5"/><text x="251" y="819">RPS27L</text></g>
<g id="C-EEF2"><circle class="k2" cx="303" cy="813" r="11.5"/><text x="303" y="813">EEF2</text></g>
<g id="C-TSR1"><circle class="k0" cx="337" cy="828" r="11.5"/><text x="337" y="828">TSR1</text></g>
<g id="C-DDX18"><circle class="k2" cx="378" cy="820" r="11.5"/><text x="378" y="820">DDX18</text></g>
<g id="C-EIF2B1"><circle class="k0" cx="157" cy="831" r="11.5"/><text x="157" y="831">EIF2B1</text></g>
<g id="C-EIF2B3"><circle class="k0" cx="181" cy="827" r="11.5"/><text x="181" y="827">EIF2B3</text></g>
<g id="C-RPLP2"><circle class="k2" cx="229" cy="832" r="11.5"/><text x="229" y="832">RPLP2</text></g>
<g id="C-WDR12"><circle class="k2" cx="378" cy="842" r="11.5"/><text x="378" y="842">WDR12</text></g>
<g id="C-DENR"><circle class="k0" cx="237" cy="851" r="11.5"/><text x="237" y="851">DENR</text></g>
<g id="C-RPL18"><circle class="k3" cx="312" cy="847" r="11.5"/><text x="312" y="847">RPL18</text></g>
<g id="C-SRP54"><circle class="k2" cx="213" cy="857" r="11.5"/><text x="213" y="857">SRP54</text></g>
<g id="C-RPL8"><circle class="k3" cx="265" cy="857" r="11.5"/><text x="265" y="857">RPL8</text></g>
<g id="C-PES1"><circle class="k3" cx="353" cy="859" r="11.5"/><text x="353" y="859">PES1</text></g>
<g id="C-MAK16"><circle class="k2" cx="407" cy="858" r="11.5"/><text x="407" y="858">MAK16</text></g>
<g id="C-FTSJ3"><circle class="k2" cx="386" cy="866" r="11.5"/><text x="386" y="866">FTSJ3</text></g>
<g id="C-SRPRB"><circle class="k0" cx="123" cy="866" r="11.5"/><text x="123" y="866">SRPRB</text></g>
<g id="C-RPL22L1"><circle class="k0" cx="239" cy="877" r="11.5"/><text x="239" y="877">RPL22L1</text></g>
<g id="C-EIF6"><circle class="k3" cx="333" cy="879" r="11.5"/><text x="333" y="879">EIF6</text></g>
<g id="C-RPF1"><circle class="k2" cx="419" cy="879" r="11.5"/><text x="419" y="879">RPF1</text></g>
<g id="C-SRP72"><circle class="k0" cx="147" cy="882" r="11.5"/><text x="147" y="882">SRP72</text></g>
<g id="C-SRP68"><circle class="k0" cx="179" cy="888" r="11.5"/><text x="179" y="888">SRP68</text></g>
<g id="C-RPL7L1"><circle class="k0" cx="305" cy="887" r="11.5"/><text x="305" y="887">RPL7L1</text></g>
<g id="C-BRIX1"><circle class="k2" cx="354" cy="893" r="11.5"/><text x="354" y="893">BRIX1</text></g>
<g id="C-NOC2L"><circle class="k0" cx="396" cy="892" r="11.5"/><text x="396" y="892">NOC2L</text></g>
<g id="C-DHX9"><circle class="k2" cx="221" cy="898" r="11.5"/><text x="221" y="898">DHX9</text></g>
<g id="C-RPL39L"><circle class="k0" cx="264" cy="896" r="11.5"/><text x="264" y="896">RPL39L</text></g>
<g id="C-SRPRA"><circle class="k0" cx="118" cy="904" r="11.5"/><text x="118" y="904">SRPRA</text></g>
<g id="C-SRP9"><circle class="k0" cx="146" cy="915" r="11.5"/><text x="146" y="915">SRP9</text></g>
<g id="C-NIP7"><circle class="k2" cx="397" cy="913" r="11.5"/><text x="397" y="913">NIP7</text></g>
<g id="C-SRP14"><circle class="k0" cx="193" cy="921" r="11.5"/><text x="193" y="921">SRP14</text></g>
<g id="C-RPL41"><circle class="k0" cx="269" cy="925" r="11.5"/><text x="269" y="925">RPL41</text></g>
<g id="C-MDN1"><circle class="k0" cx="457" cy="920" r="11.5"/><text x="457" y="920">MDN1</text></g>
<g id="C-RRP15"><circle class="k0" cx="496" cy="925" r="11.5"/><text x="496" y="925">RRP15</text></g>
<g id="C-MCTS1"><circle class="k0" cx="244" cy="933" r="11.5"/><text x="244" y="933">MCTS1</text></g>
<g id="C-RPF2"><circle class="k0" cx="326" cy="931" r="11.5"/><text x="326" y="931">RPF2</text></g>
<g id="C-NOP53"><circle class="k0" cx="405" cy="933" r="11.5"/><text x="405" y="933">NOP53</text></g>
<g id="C-SRP19"><circle class="k0" cx="163" cy="936" r="11.5"/><text x="163" y="936">SRP19</text></g>
<g id="C-NOP2"><circle class="k0" cx="357" cy="940" r="11.5"/><text x="357" y="940">NOP2</text></g>
<g id="C-RRS1"><circle class="k0" cx="387" cy="951" r="11.5"/><text x="387" y="951">RRS1</text></g>
<g id="C-IGF2BP1"><circle class="k0" cx="193" cy="953" r="11.5"/><text x="193" y="953">IGF2BP1</text></g>
<g id="C-YBX1"><circle class="k0" cx="159" cy="964" r="11.5"/><text x="159" y="964">YBX1</text></g>
<g id="C-SDAD1"><circle class="k0" cx="363" cy="960" r="11.5"/><text x="363" y="960">SDAD1</text></g>
<g id="C-CSDE1"><circle class="k0" cx="223" cy="970" r="11.5"/><text x="223" y="970">CSDE1</text></g>
<g id="C-NLE1"><circle class="k0" cx="419" cy="971" r="11.5"/><text x="419" y="971">NLE1</text></g>
<g id="C-ZNF622"><circle class="k0" cx="322" cy="975" r="11.5"/><text x="322" y="975">ZNF622</text></g>
<g id="C-SYNCRIP"><circle class="k0" cx="173" cy="994" r="11.5"/><text x="173" y="994">SYNCRIP</text></g>
<g id="C-HNRNPU"><circle class="k0" cx="209" cy="998" r="11.5"/><text x="209" y="998">HNRNPU</text></g>
<g id="C-FAU"><circle class="k6" cx="278" cy="800" r="13"/><text x="278" y="800">FAU</text></g>
</g>
<g id="D">
<g id="D-STH"><circle class="k0" cx="718" cy="477" r="11"/><text x="718" y="477">STH</text></g>
<g id="D-SNCAIP"><circle class="k0" cx="691" cy="527" r="11"/><text x="691" y="527">SNCAIP</text></g>
<g id="D-MAOB"><circle class="k0" cx="662" cy="536" r="11"/><text x="662" y="536">MAOB</text></g>
<g id="D-PDK4"><circle class="k0" cx="654" cy="567" r="11"/><text x="654" y="567">PDK4</text></g>
<g id="D-PRKN"><circle class="k1" cx="685" cy="568" r="11"/><text x="685" y="568">PRKN</text></g>
<g id="D-ISCU"><circle class="k0" cx="746" cy="576" r="11"/><text x="746" y="576">ISCU</text></g>
<g id="D-ADCK1"><circle class="k0" cx="798" cy="574" r="11"/><text x="798" y="574">ADCK1</text></g>
<g id="D-IDH3G"><circle class="k2" cx="713" cy="590" r="11"/><text x="713" y="590">IDH3G</text></g>
<g id="D-NDUFV2"><circle class="k4" cx="787" cy="594" r="11"/><text x="787" y="594">NDUFV2</text></g>
<g id="D-NDUFS2"><circle class="k5" cx="759" cy="599" r="11"/><text x="759" y="599">NDUFS2</text></g>
<g id="D-SIRT4"><circle class="k0" cx="617" cy="604" r="11"/><text x="617" y="604">SIRT4</text></g>
<g id="D-SIRT3"><circle class="k1" cx="660" cy="609" r="11"/><text x="660" y="609">SIRT3</text></g>
<g id="D-PDHX"><circle class="k3" cx="688" cy="609" r="11"/><text x="688" y="609">PDHX</text></g>
<g id="D-HSCB"><circle class="k3" cx="733" cy="607" r="11"/><text x="733" y="607">HSCB</text></g>
<g id="D-NDUFA12"><circle class="k3" cx="807" cy="607" r="11"/><text x="807" y="607">NDUFA12</text></g>
<g id="D-HSPA9"><circle class="k4" cx="709" cy="621" r="11"/><text x="709" y="621">HSPA9</text></g>
<g id="D-BIRC7"><circle class="k0" cx="578" cy="621" r="11"/><text x="578" y="621">BIRC7</text></g>
<g id="D-NDUFS8"><circle class="k5" cx="782" cy="624" r="11"/><text x="782" y="624">NDUFS8</text></g>
<g id="D-HTRA2"><circle class="k2" cx="648" cy="637" r="11"/><text x="648" y="637">HTRA2</text></g>
<g id="D-NDUFAF5"><circle class="k0" cx="818" cy="637" r="11"/><text x="818" y="637">NDUFAF5</text></g>
<g id="D-TXNRD3"><circle class="k0" cx="673" cy="647" r="11"/><text x="673" y="647">TXNRD3</text></g>
<g id="D-UQCRFS1"><circle class="k5" cx="717" cy="640" r="11"/><text x="717" y="640">UQCRFS1</text></g>
<g id="D-UQCR10"><circle class="k3" cx="795" cy="646" r="11"/><text x="795" y="646">UQCR10</text></g>
<g id="D-PDPR"><circle class="k0" cx="623" cy="653" r="11"/><text x="623" y="653">PDPR</text></g>
<g id="D-TIMM13"><circle class="k2" cx="697" cy="658" r="11"/><text x="697" y="658">TIMM13</text></g>
<g id="D-CYC1"><circle class="k4" cx="743" cy="655" r="11"/><text x="743" y="655">CYC1</text></g>
<g id="D-UQCRQ"><circle class="k4" cx="771" cy="660" r="11"/><text x="771" y="660">UQCRQ</text></g>
<g id="D-PMPCB"><circle class="k4" cx="722" cy="665" r="11"/><text x="722" y="665">PMPCB</text></g>
<g id="D-UQCRB"><circle class="k3" cx="788" cy="674" r="11"/><text x="788" y="674">UQCRB</text></g>
<g id="D-COX5A"><circle class="k4" cx="748" cy="677" r="11"/><text x="748" y="677">COX5A</text></g>
<g id="D-COX15"><circle class="k4" cx="768" cy="687" r="11"/><text x="768" y="687">COX15</text></g>
<g id="D-CHCHD4"><circle class="k0" cx="668" cy="684" r="11"/><text x="668" y="684">CHCHD4</text></g>
<g id="D-OXA1L"><circle class="k3" cx="733" cy="693" r="11"/><text x="733" y="693">OXA1L</text></g>
<g id="D-COX11"><circle class="k3" cx="708" cy="700" r="11"/><text x="708" y="700">COX11</text></g>
<g id="D-COX14"><circle class="k2" cx="750" cy="709" r="11"/><text x="750" y="709">COX14</text></g>
<g id="D-COA3"><circle class="k2" cx="789" cy="709" r="11"/><text x="789" y="709">COA3</text></g>
<g id="D-MAIP1"><circle class="k0" cx="688" cy="728" r="11"/><text x="688" y="728">MAIP1</text></g>
<g id="D-COX16"><circle class="k2" cx="778" cy="734" r="11"/><text x="778" y="734">COX16</text></g>
<g id="D-COX20"><circle class="k2" cx="737" cy="742" r="11"/><text x="737" y="742">COX20</text></g>
<g id="D-NDUFS1"><circle class="k7" cx="753" cy="626" r="11"/><text x="753" y="626">NDUFS1</text></g>
</g>
<g id="E">
<g id="E-SOD1"><circle class="k0" cx="560" cy="796" r="13"/><text x="560" y="796">SOD1</text></g>
<g id="E-DERL1"><circle class="k0" cx="600" cy="803" r="13"/><text x="600" y="803">DERL1</text></g>
<g id="E-VCP"><circle class="k0" cx="634" cy="828" r="13"/><text x="634" y="828">VCP</text></g>
<g id="E-UBC"><circle class="k6" cx="703" cy="783" r="13.5"/><text x="703" y="783">UBC</text></g>
<g id="E-PSMA7"><circle class="k6" cx="784" cy="796" r="13.5"/><text x="784" y="796">PSMA7</text></g>
<g id="E-PSMA6"><circle class="k6" cx="740" cy="803" r="13.5"/><text x="740" y="803">PSMA6</text></g>
<g id="E-PSMA3"><circle class="k6" cx="714" cy="813" r="13.5"/><text x="714" y="813">PSMA3</text></g>
<g id="E-PSMD8"><circle class="k7" cx="675" cy="825" r="13.5"/><text x="675" y="825">PSMD8</text></g>
<g id="E-UBB"><circle class="k6" cx="822" cy="831" r="13.5"/><text x="822" y="831">UBB</text></g>
<g id="E-PSMB7"><circle class="k6" cx="779" cy="833" r="13.5"/><text x="779" y="833">PSMB7</text></g>
<g id="E-PSMB1"><circle class="k6" cx="746" cy="837" r="13.5"/><text x="746" y="837">PSMB1</text></g>
<g id="E-PSMA1"><circle class="k6" cx="710" cy="842" r="13.5"/><text x="710" y="842">PSMA1</text></g>
<g id="E-PSMB4"><circle class="k6" cx="682" cy="846" r="13.5"/><text x="682" y="846">PSMB4</text></g>
<g id="E-PSMD2"><circle class="k6" cx="653" cy="855" r="13.5"/><text x="653" y="855">PSMD2</text></g>
<g id="E-PSMA5"><circle class="k6" cx="727" cy="858" r="13.5"/><text x="727" y="858">PSMA5</text></g>
<g id="E-PSMA4"><circle class="k6" cx="780" cy="864" r="13.5"/><text x="780" y="864">PSMA4</text></g>
<g id="E-PSMD3"><circle class="k7" cx="813" cy="865" r="13.5"/><text x="813" y="865">PSMD3</text></g>
<g id="E-PSMC1"><circle class="k7" cx="623" cy="874" r="13.5"/><text x="623" y="874">PSMC1</text></g>
<g id="E-PSMD12"><circle class="k6" cx="677" cy="871" r="13.5"/><text x="677" y="871">PSMD12</text></g>
<g id="E-PSMD11"><circle class="k6" cx="703" cy="871" r="13.5"/><text x="703" y="871">PSMD11</text></g>
<g id="E-PSMB2"><circle class="k6" cx="745" cy="874" r="13.5"/><text x="745" y="874">PSMB2</text></g>
<g id="E-PSMC2"><circle class="k6" cx="652" cy="885" r="13.5"/><text x="652" y="885">PSMC2</text></g>
<g id="E-PSMD14"><circle class="k7" cx="719" cy="888" r="13.5"/><text x="719" y="888">PSMD14</text></g>
<g id="E-PSMB6"><circle class="k6" cx="766" cy="888" r="13.5"/><text x="766" y="888">PSMB6</text></g>
<g id="E-PSMC3"><circle class="k7" cx="622" cy="905" r="13.5"/><text x="622" y="905">PSMC3</text></g>
<g id="E-PSMD6"><circle class="k6" cx="664" cy="903" r="13.5"/><text x="664" y="903">PSMD6</text></g>
<g id="E-PSMD4"><circle class="k6" cx="742" cy="901" r="13.5"/><text x="742" y="901">PSMD4</text></g>
<g id="E-PSMB5"><circle class="k6" cx="787" cy="904" r="13.5"/><text x="787" y="904">PSMB5</text></g>
<g id="E-PSMC5"><circle class="k7" cx="818" cy="909" r="13.5"/><text x="818" y="909">PSMC5</text></g>
<g id="E-PSMD13"><circle class="k6" cx="692" cy="911" r="13.5"/><text x="692" y="911">PSMD13</text></g>
<g id="E-ADRM1"><circle class="k6" cx="719" cy="914" r="13.5"/><text x="719" y="914">ADRM1</text></g>
<g id="E-PSMA8"><circle class="k4" cx="651" cy="926" r="13.5"/><text x="651" y="926">PSMA8</text></g>
<g id="E-PSMD1"><circle class="k6" cx="755" cy="924" r="13.5"/><text x="755" y="924">PSMD1</text></g>
<g id="E-UBA52"><circle class="k6" cx="712" cy="940" r="13.5"/><text x="712" y="940">UBA52</text></g>
<g id="E-RPS27A"><circle class="k6" cx="775" cy="940" r="13.5"/><text x="775" y="940">RPS27A</text></g>
<g id="E-PSMD7"><circle class="k7" cx="747" cy="949" r="13.5"/><text x="747" y="949">PSMD7</text></g>
<g id="E-PSMA2"><circle class="k7" cx="689" cy="954" r="13.5"/><text x="689" y="954">PSMA2</text></g>
<g id="E-PSMD9"><circle class="k3" cx="657" cy="963" r="13.5"/><text x="657" y="963">PSMD9</text></g>
<g id="E-SEM1"><circle class="k2" cx="712" cy="969" r="13.5"/><text x="712" y="969">SEM1</text></g>
</g>
</svg>
